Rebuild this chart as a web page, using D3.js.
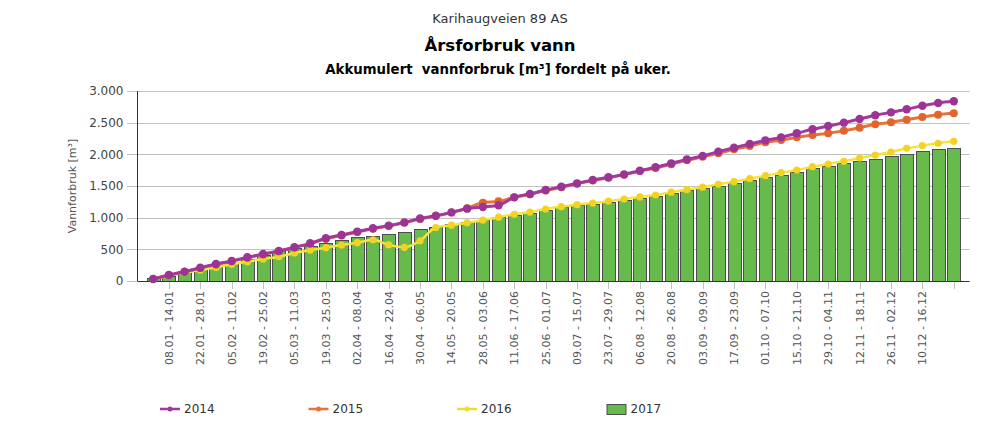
<!DOCTYPE html>
<html><head><meta charset="utf-8">
<script src="https://cdn.jsdelivr.net/npm/d3@7/dist/d3.min.js"></script>
<style>
body{margin:0;background:#fff;}
svg{display:block;font-family:"DejaVu Sans",Verdana,sans-serif;}
</style></head><body>
<svg id="c" width="1000" height="430"></svg>
<script>
const categories = ["01.01 - 07.01","08.01 - 14.01","15.01 - 21.01","22.01 - 28.01","29.01 - 04.02","05.02 - 11.02","12.02 - 18.02","19.02 - 25.02","26.02 - 04.03","05.03 - 11.03","12.03 - 18.03","19.03 - 25.03","26.03 - 01.04","02.04 - 08.04","09.04 - 15.04","16.04 - 22.04","23.04 - 29.04","30.04 - 06.05","07.05 - 13.05","14.05 - 20.05","21.05 - 27.05","28.05 - 03.06","04.06 - 10.06","11.06 - 17.06","18.06 - 24.06","25.06 - 01.07","02.07 - 08.07","09.07 - 15.07","16.07 - 22.07","23.07 - 29.07","30.07 - 05.08","06.08 - 12.08","13.08 - 19.08","20.08 - 26.08","27.08 - 02.09","03.09 - 09.09","10.09 - 16.09","17.09 - 23.09","24.09 - 30.09","01.10 - 07.10","08.10 - 14.10","15.10 - 21.10","22.10 - 28.10","29.10 - 04.11","05.11 - 11.11","12.11 - 18.11","19.11 - 25.11","26.11 - 02.12","03.12 - 09.12","10.12 - 16.12","17.12 - 23.12","24.12 - 30.12"];
const values2014 = [32,95,147,210,268,316,374,426,474,532,595,674,726,779,832,874,926,987,1031,1084,1142,1168,1195,1321,1374,1437,1489,1542,1595,1637,1684,1742,1795,1858,1921,1976,2042,2105,2163,2221,2268,2332,2395,2447,2500,2558,2616,2663,2711,2768,2811,2837];
const values2015 = [30,92,145,205,262,312,368,420,470,528,590,665,720,772,825,868,920,980,1025,1080,1150,1236,1258,1321,1370,1430,1480,1535,1585,1630,1678,1735,1785,1845,1905,1960,2016,2079,2132,2190,2226,2268,2305,2332,2374,2421,2474,2505,2547,2589,2626,2647];
const values2016 = [28,84,131,174,215,263,305,347,384,442,489,526,568,605,650,570,532,635,845,882,921,960,1008,1053,1089,1137,1173,1205,1230,1260,1295,1328,1358,1403,1442,1482,1528,1568,1616,1663,1710,1753,1805,1847,1890,1942,1989,2037,2095,2137,2174,2205];
const values2017 = [42,79,163,195,253,290,347,405,470,520,555,595,647,690,711,742,769,816,858,897,935,970,1005,1045,1080,1125,1165,1195,1222,1250,1285,1318,1350,1392,1432,1462,1505,1542,1595,1637,1674,1726,1779,1816,1858,1895,1932,1974,2005,2053,2079,2095];
const yTicks = [0,500,1000,1500,2000,2500,3000];
const yTickLabels = ["0","500","1.000","1.500","2.000","2.500","3.000"];
const seriesNames = ["2014","2015","2016","2017"];
const titleText = "Karihaugveien 89 AS";
const mainTitle = "Årsforbruk vann";
const subTitle = "Akkumulert  vannforbruk [m³] fordelt på uker.";
const yTitle = "Vannforbruk [m³]";

const svg = d3.select("#c");
const L = 137.5, R = 969.5, T = 91, B = 281;
const x = d3.scaleLinear().domain([-1, categories.length]).range([L, R]);
const y = d3.scaleLinear().domain([0, 3000]).range([B, T]);

// titles
svg.append("text").attr("x",500).attr("y",23).attr("text-anchor","middle")
  .attr("font-size",13).attr("fill","#333").text(titleText);
svg.append("text").attr("x",500).attr("y",50.5).attr("text-anchor","middle")
  .attr("font-size",16.5).attr("font-weight","bold").attr("fill","#000").text(mainTitle);
svg.append("text").attr("x",498).attr("y",73.5).attr("text-anchor","middle")
  .attr("font-size",13.3).attr("font-weight","bold").attr("fill","#000")
  .style("white-space","pre").text(subTitle);

// grid
const yAxis = d3.axisLeft(y).tickValues(yTicks).tickFormat((d,i)=>yTickLabels[i]).tickSize(0).tickPadding(14);
const gy = svg.append("g").attr("transform",`translate(${L},0)`).call(yAxis);
gy.select(".domain").remove();
gy.selectAll("text").attr("font-family","DejaVu Sans").attr("font-size",12).attr("fill","#444");
svg.append("g").selectAll("line").data(yTicks).join("line")
  .attr("x1",127).attr("x2",R).attr("y1",d=>Math.round(y(d))+0.5).attr("y2",d=>Math.round(y(d))+0.5)
  .attr("stroke","#c0c0c0").attr("stroke-width",1);

svg.append("text").attr("transform",`translate(76,${(T+B)/2}) rotate(-90)`).attr("text-anchor","middle")
  .attr("font-size",11).attr("fill","#555").text(yTitle);

// x axis ticks & labels
const tickIdx = d3.range(1, categories.length, 2);
svg.append("g").selectAll("line").data(tickIdx).join("line")
  .attr("x1",d=>Math.round(x(d))+0.5).attr("x2",d=>Math.round(x(d))+0.5)
  .attr("y1",B).attr("y2",B+8).attr("stroke","#c0c0c0");
svg.append("g").selectAll("text").data(tickIdx.filter(d=>d<categories.length-1)).join("text")
  .attr("transform",d=>`translate(${x(d)+4},${B+10}) rotate(-90)`)
  .attr("text-anchor","end").attr("font-size",11).attr("fill","#555")
  .text(d=>categories[d]);

// bars
const bw = 13;
svg.append("g").selectAll("rect").data(values2017).join("rect")
  .attr("x",(d,i)=>Math.round(x(i)-bw/2)+0.5).attr("width",bw)
  .attr("y",d=>Math.round(y(d))+0.5).attr("height",d=>B-Math.round(y(d)))
  .attr("fill","#66bb4c").attr("stroke","#4d4d4d").attr("stroke-width",1);

// axis lines
svg.append("line").attr("x1",L).attr("x2",L).attr("y1",T).attr("y2",B).attr("stroke","#333");
svg.append("line").attr("x1",L).attr("x2",R).attr("y1",B+0.5).attr("y2",B+0.5).attr("stroke","#333");

const line = d3.line().x((d,i)=>x(i)).y(d=>y(d)).curve(d3.curveMonotoneX);
function drawSeries(vals, color, mcolor, w, r){
  const g = svg.append("g");
  g.append("path").datum(vals).attr("d",line).attr("fill","none").attr("stroke",color).attr("stroke-width",w);
  g.selectAll("circle").data(vals).join("circle").attr("cx",(d,i)=>x(i)).attr("cy",d=>y(d)).attr("r",r).attr("fill",mcolor);
}
drawSeries(values2016, "#f4e43c", "#f2d324", 2.5, 3.6);
drawSeries(values2015, "#e8733a", "#e0662e", 3, 4);
drawSeries(values2014, "#a3399d", "#9b3495", 3, 4.2);

// legend
const legX = [160, 308.5, 457, 606.5];
const legColors = ["#a3399d","#e8733a","#f0dc30"];
const lg = svg.append("g");
seriesNames.forEach((n,i)=>{
  if(i<3){
    lg.append("line").attr("x1",legX[i]).attr("x2",legX[i]+20).attr("y1",409).attr("y2",409).attr("stroke",legColors[i]).attr("stroke-width",2.5);
    lg.append("circle").attr("cx",legX[i]+10).attr("cy",409).attr("r",2.5).attr("fill",legColors[i]);
  } else {
    lg.append("rect").attr("x",legX[i]+0.5).attr("y",404.5).attr("width",19).attr("height",10).attr("fill","#66bb4c").attr("stroke","#4d4d4d");
  }
  lg.append("text").attr("x",legX[i]+24).attr("y",413).attr("font-size",12).attr("fill","#333").text(n);
});
</script></body></html>
